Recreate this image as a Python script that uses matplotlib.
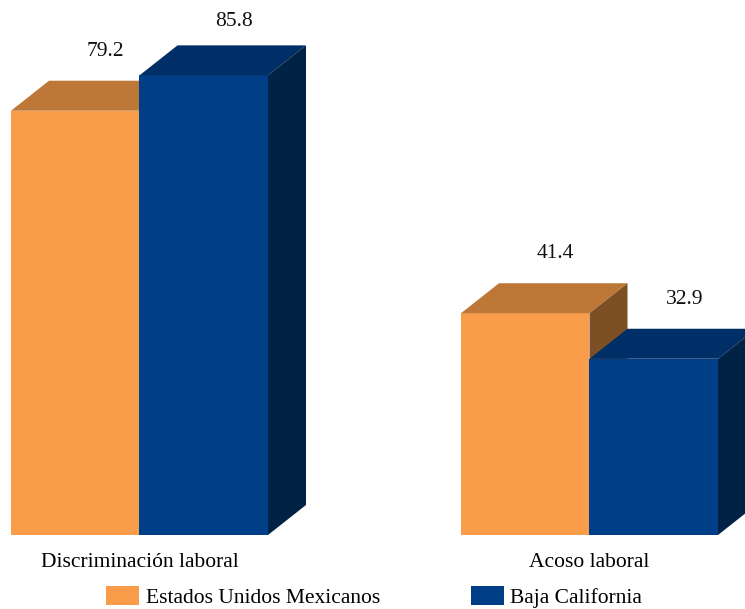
import numpy as np
import matplotlib.pyplot as plt
from matplotlib.patches import Polygon

categories = ['Discriminación laboral', 'Acoso laboral']
series = ['Estados Unidos Mexicanos', 'Baja California']
nacional = [79.2, 41.4]
baja_california = [85.8, 32.9]

plt.rcParams['font.family'] = ['Liberation Serif', 'DejaVu Serif']

front = ['#F99D4A', '#003F87']
top = ['#BD7838', '#002E66']
side = ['#7D4F25', '#002244']

W, H = 745, 609
fig = plt.figure(figsize=(W / 100, H / 100), dpi=100)
# axes: y=0 at pixel 535 from top, 5.357 px per unit; group centres 450 px apart
base_px = 535
ppu = 5.357
ax = fig.add_axes([0, (H - base_px) / H, 1, base_px / H])
ax.set_ylim(0, base_px / ppu)
ax.set_xlim(-139.5 / 450, (W - 139.5) / 450)

width = 128.5 / 450
dx = 38 / 450
dy = 30 / ppu
fs = 15.5

x = np.arange(len(categories))
for i, (vals, name) in enumerate([(nacional, series[0]), (baja_california, series[1])]):
    xs = x + (i - 0.5) * width
    ax.bar(xs, vals, width, color=front[i], label=name, zorder=2 + 2 * i, linewidth=0)
    for xc, v in zip(xs, vals):
        l, r = xc - width / 2, xc + width / 2
        ax.add_patch(Polygon([(l, v), (r, v), (r + dx, v + dy), (l + dx, v + dy)],
                             closed=True, color=top[i], zorder=2 + 2 * i, lw=0))
        ax.add_patch(Polygon([(r, 0), (r + dx, dy), (r + dx, v + dy), (r, v)],
                             closed=True, color=side[i], zorder=2 + 2 * i, lw=0))
        # keep the value label inside the plot area
        ty = min(v + dy + 5.5, 95.8)
        ax.text(xc + dx * 0.8, ty, f'{v:.1f}', ha='center', va='center',
                fontsize=fs, color='#111111', zorder=10)

ax.set_xticks(x)
ax.set_xticklabels(categories, fontsize=fs)
ax.tick_params(axis='x', length=0, pad=13)
ax.set_yticks([])
for s in ax.spines.values():
    s.set_visible(False)

ax.legend(loc='lower left', bbox_to_anchor=(105 / W, 0.0), bbox_transform=fig.transFigure,
          ncol=2, frameon=False, fontsize=fs, handlelength=1.55, handleheight=1.0,
          handletextpad=0.3, columnspacing=4.2, borderpad=0, borderaxespad=0.05)

fig.savefig('out.png', dpi=100)
